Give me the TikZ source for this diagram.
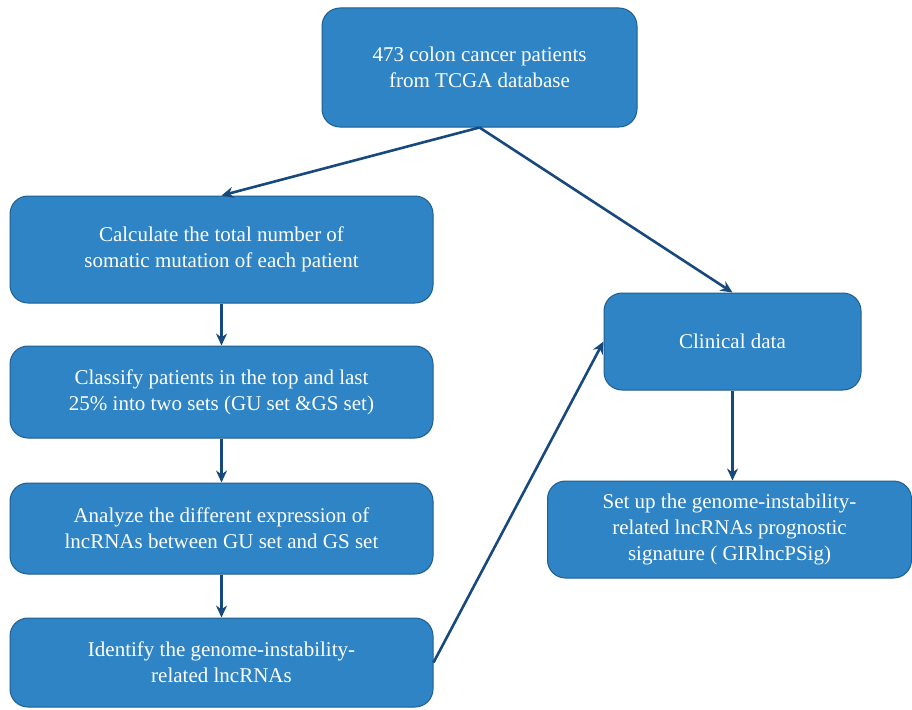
\documentclass[tikz,border=0pt]{standalone}
\usepackage{fontspec}
\setmainfont{Liberation Serif}
\usepackage{xcolor}
\usetikzlibrary{shapes.geometric, arrows, arrows.meta, positioning, calc}
\definecolor{boxblue}{HTML}{2E84C4}
\definecolor{boxline}{HTML}{1F5E8E}
\definecolor{arrowblue}{HTML}{17497D}
\tikzstyle{stepbox} = [draw=boxline, line width=1pt, fill=boxblue, rounded corners=18pt, text=white, align=center, font=\fontsize{21}{26}\selectfont, inner sep=0pt]
\tikzstyle{arrow} = [line width=2.6pt, draw=arrowblue, -{Stealth[length=12pt, width=11pt]}]

\begin{document}
\begin{tikzpicture}[x=1pt, y=-1pt]
    \useasboundingbox (0,0) rectangle (912,709);
    % Patients
    \node[stepbox, minimum width=315pt, minimum height=119pt] (patients) at (479.5, 67.5) {473 colon cancer patients\\from TCGA database};
    
    % Left column
    \node[stepbox, minimum width=423pt, minimum height=107pt] (calc) at (221.5, 249.5) {Calculate the total number of\\somatic mutation of each patient};
    \node[stepbox, minimum width=423pt, minimum height=92pt] (classify) at (221.5, 392) {Classify patients in the top and last\\25\% into two sets (GU set \&GS set)};
    \node[stepbox, minimum width=423pt, minimum height=91pt] (analyze) at (221.5, 528.5) {Analyze the different expression of\\lncRNAs between GU set and GS set};
    \node[stepbox, minimum width=423pt, minimum height=89pt] (identify) at (221.5, 662.5) {Identify the genome-instability-\\related lncRNAs};
    
    % Right column
    \node[stepbox, minimum width=257pt, minimum height=97pt] (clinical) at (732.5, 341.5) {Clinical data};
    \node[stepbox, minimum width=364pt, minimum height=97pt] (signature) at (729.5, 529.5) {Set up the genome-instability-\\related lncRNAs prognostic\\signature ( GIRlncPSig)};
    
    % Connectors
    \draw[arrow] (patients.south) -- (calc.north);
    \draw[arrow] (patients.south) -- (clinical.north);
    \draw[arrow] (calc) -- (classify);
    \draw[arrow] (classify) -- (analyze);
    \draw[arrow] (analyze) -- (identify);
    \draw[arrow] (identify.east) -- (clinical.west);
    \draw[arrow] (clinical) -- (signature.north -| clinical);
\end{tikzpicture}
\end{document}
